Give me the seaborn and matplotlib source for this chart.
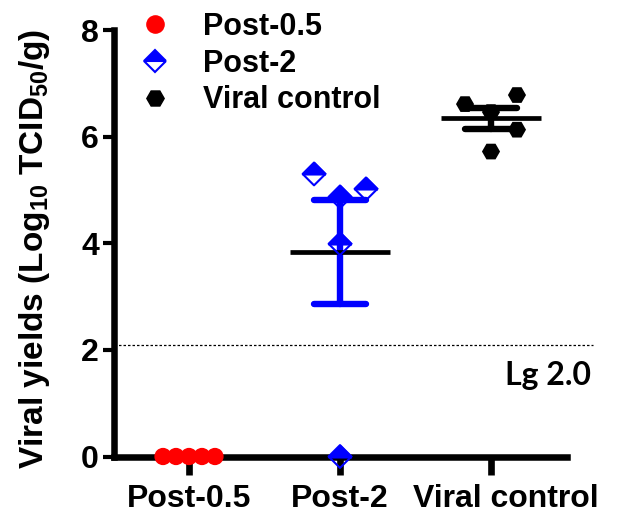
import numpy as np
import pandas as pd
import matplotlib
matplotlib.use("Agg")
import matplotlib.pyplot as plt
import matplotlib.transforms as mtransforms
from matplotlib.markers import MarkerStyle
from matplotlib.lines import Line2D
import seaborn as sns

# ---------------- data ----------------
groups = ["Post-0.5", "Post-2", "Viral control"]
post_05 = [0.0, 0.0, 0.0, 0.0, 0.0]
post_2 = [5.30, 4.87, 5.02, 3.99, 0.0]
viral_control = [6.61, 6.78, 6.46, 6.13, 5.72]
detection_limit = 2.1
limit_label = "Lg 2.0"
y_ticks = [0, 2, 4, 6, 8]
y_label = r"Viral yields (Log$_{10}$ TCID$_{50}$/g)"

colors = {"Post-0.5": "#ff0000", "Post-2": "#0000ff", "Viral control": "#000000"}


def spread(values, thresh=0.5, half_width=0.172):
    """GraphPad-like column scatter: greedy slot placement around the centre."""
    values = np.asarray(values, float)
    order = np.argsort(values, kind="stable")
    seq = [0, 1, -1, 2, -2, 3, -3]
    placed = {}
    slot = np.zeros(len(values), int)
    for i in order:
        for s in seq:
            if all(abs(values[i] - u) >= thresh for u in placed.get(s, [])):
                placed.setdefault(s, []).append(values[i])
                slot[i] = s
                break
    m = max(1, np.abs(slot).max())
    return slot / m * half_width


series = [post_05, post_2, viral_control]
df = pd.DataFrame({
    "group": np.repeat(groups, [len(s) for s in series]),
    "value": np.concatenate(series),
})
df["gidx"] = df["group"].map({g: i for i, g in enumerate(groups)})
df["xpos"] = df["gidx"] + np.concatenate([spread(s) for s in series])

# ---------------- style ----------------
sns.set_theme(style="ticks")
plt.rcParams["font.family"] = ["Liberation Sans", "DejaVu Sans"]
plt.rcParams["font.weight"] = "bold"
plt.rcParams["mathtext.default"] = "regular"
for k in ["text.color", "axes.labelcolor", "xtick.color", "ytick.color", "axes.edgecolor"]:
    plt.rcParams[k] = "black"

fig = plt.figure(figsize=(6.17, 5.16), dpi=100)
W, H = 617, 516
ax = fig.add_axes([113.5 / W, (H - 456.5) / H, 453 / W, 426.5 / H])

# error bars (SEM)
sns.pointplot(data=df, x="gidx", y="value", hue="group", palette=colors,
              errorbar="se", capsize=0.345, linestyle="none", marker="",
              err_kws={"linewidth": 4.6, "zorder": 2.7}, legend=False, ax=ax)
# mean lines
sns.pointplot(data=df, x="gidx", y="value", errorbar=None, color="black",
              linestyle="none", marker="_", markersize=72.5,
              markeredgewidth=3.4, zorder=2.8, legend=False, ax=ax)

# points
d05 = df[df.group == "Post-0.5"]
sns.scatterplot(data=d05, x="xpos", y="value", marker="o", s=155,
                color=colors["Post-0.5"], edgecolor="none", zorder=3,
                clip_on=False, legend=False, ax=ax)
d2 = df[df.group == "Post-2"]
sns.scatterplot(data=d2, x="xpos", y="value", marker="D", s=135,
                facecolor="none", edgecolor=colors["Post-2"], linewidth=1.5,
                zorder=3, clip_on=False, legend=False, ax=ax)
sns.scatterplot(data=d2, x="xpos", y="value", marker=MarkerStyle("D", fillstyle="top"),
                s=135, color=colors["Post-2"], edgecolor=colors["Post-2"],
                linewidth=1.5, zorder=3.1, clip_on=False, legend=False, ax=ax)
dvc = df[df.group == "Viral control"]
sns.scatterplot(data=dvc, x="xpos", y="value", marker="H", s=170,
                color=colors["Viral control"], edgecolor="none", zorder=3,
                clip_on=False, legend=False, ax=ax)

# detection limit
ax.axhline(detection_limit, xmin=0, xmax=(593 - 113.5) / 453, color="black",
           lw=0.9, linestyle=(0, (2, 1.6)), clip_on=False, zorder=1)
ax.text(2.38, 1.34, limit_label, ha="center", va="baseline", fontsize=23,
        fontweight="bold", family=["Lato", "DejaVu Sans"])

# axes
ax.set_xlim(-0.5, 2.5)
ax.set_ylim(0, 8)
ax.set_xticks(range(len(groups)))
ax.set_xticklabels(groups)
ax.set_yticks(y_ticks)
ax.set_xlabel("")
ax.set_ylabel(y_label, fontsize=24, fontweight="bold")
ax.yaxis.set_label_coords(-0.135, 0.488)
for sp in ["top", "right"]:
    ax.spines[sp].set_visible(False)
for sp in ["left", "bottom"]:
    ax.spines[sp].set_linewidth(4.7)
    ax.spines[sp].set_color("black")
ax.tick_params(axis="x", length=12.6, width=4.8, pad=7, labelsize=23, colors="black")
ax.tick_params(axis="y", length=8, width=3, pad=2.5, labelsize=23, colors="black")
for lab in ax.get_xticklabels() + ax.get_yticklabels():
    lab.set_fontweight("bold")
# the last category label sits slightly right of its tick in the reference
last = ax.get_xticklabels()[-1]
last.set_transform(last.get_transform() +
                   mtransforms.ScaledTranslation(15 / 100, 0, fig.dpi_scale_trans))

# legend
handles = [
    Line2D([], [], marker="o", color=colors["Post-0.5"], linestyle="none", markersize=12.4),
    Line2D([], [], marker="D", color=colors["Post-2"], markerfacecolor=colors["Post-2"],
           markerfacecoloralt="white", fillstyle="top", markeredgewidth=1.5,
           linestyle="none", markersize=11.2),
    Line2D([], [], marker="H", color=colors["Viral control"], linestyle="none", markersize=12.5),
]
leg = fig.legend(handles, groups, loc="upper left", bbox_to_anchor=(140 / W, 1 - 12 / H),
                 frameon=False, fontsize=22, handlelength=1.0, handletextpad=1.05,
                 labelspacing=0.22, borderpad=0, borderaxespad=0)
for t in leg.get_texts():
    t.set_fontweight("bold")

fig.savefig("out.png", dpi=100)
